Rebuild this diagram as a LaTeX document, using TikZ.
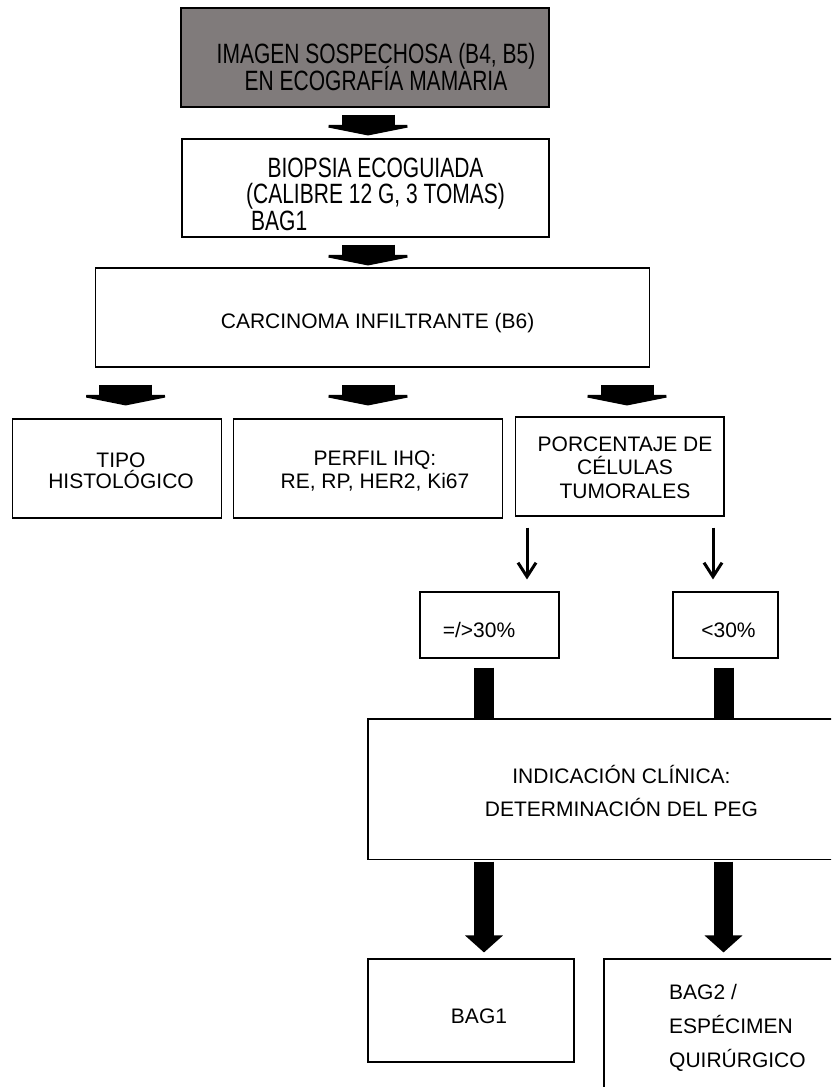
\documentclass[tikz,border=0pt]{standalone}
\usepackage{fontspec}
\setmainfont{Liberation Sans}
\usetikzlibrary{arrows.meta}
\definecolor{boxgray}{RGB}{128,123,123}
\newcommand{\boxfont}[1]{\fontsize{21}{#1}\selectfont\lineskiplimit=-100pt\relax}

\begin{document}
\begin{tikzpicture}[x=1pt, y=-1pt,
    box/.style={draw, line width=1.1pt, inner sep=0pt},
    txt/.style={inner sep=0pt, anchor=base, align=center},
    blockarr/.style={line width=53pt, -{Triangle[length=10.5pt, width=105pt]}},
    bar/.style={line width=20pt},
    tallarr/.style={line width=19.5pt, -{Triangle[length=17pt, width=37pt]}},
    thinarr/.style={line width=3pt, -{Straight Barb[length=14pt, width=18pt]}}]

\useasboundingbox (0,0) rectangle (831,1087);
\clip (0,0) rectangle (831,1087);

\node[box, fill=boxgray, line width=1.4pt, minimum width=368, minimum height=99] (img) at (365,57.5) {};
\node[box, minimum width=367, minimum height=98] (biop) at (365.5,188) {};
\node[box, minimum width=553.8, minimum height=99] (carc) at (372.8,317.5) {};
\node[box, minimum width=208.5, minimum height=99] (tipo) at (116.8,468.5) {};
\node[box, minimum width=269.7, minimum height=99] (perfil) at (368,468.5) {};
\node[box, minimum width=208.3, minimum height=99] (porc) at (619.8,466.5) {};
\node[box, minimum width=139, minimum height=66] (ge30) at (489.5,625) {};
\node[box, minimum width=105, minimum height=66] (lt30) at (725.5,625) {};
\node[box, minimum width=522, minimum height=140.5] (ind) at (629,789.25) {};
\node[box, minimum width=206, minimum height=103] (bagone) at (471,1010.5) {};
\node[box, minimum width=296, minimum height=171] (bagtwo) at (752,1044.5) {};

\node[txt, font=\boxfont{20.3}, yscale=1.33, transform shape] (imgtxt) at (376,90)
    {IMAGEN SOSPECHOSA (B4, B5)\\EN ECOGRAFÍA MAMARIA};
\node[txt, font=\boxfont{19.9}, yscale=1.33, transform shape] (bioptxt) at (375.5,230)
    {BIOPSIA ECOGUIADA\\(CALIBRE 12 G, 3 TOMAS)\\\rlap{\hspace{5pt}BAG1}\phantom{(CALIBRE 12 G, 3 TOMAS)}};
\node[txt, font=\boxfont{23}] (carctxt) at (377.6,328) {CARCINOMA INFILTRANTE (B6)};
\node[txt, font=\boxfont{21}] (tipotxt) at (121,488) {TIPO\\HISTOLÓGICO};
\node[txt, font=\boxfont{23}] (perfiltxt) at (375,488) {PERFIL IHQ:\\RE, RP, HER2, Ki67};
\node[txt, font=\boxfont{23.5}] (porctxt) at (625,498) {PORCENTAJE DE\\CÉLULAS\\TUMORALES};
\node[txt, font=\boxfont{23}] (ge30txt) at (479,637) {=/>30\%};
\node[txt, font=\boxfont{23}] (lt30txt) at (728.5,637) {<30\%};
\node[txt, font=\boxfont{33}] (indtxt) at (621.5,816) {INDICACIÓN CLÍNICA:\\DETERMINACIÓN DEL PEG};
\node[txt, font=\boxfont{23}] (bagonetxt) at (479,1023) {BAG1};
\node[txt, font=\boxfont{34}, align=left, anchor=base west] (bagtwotxt) at (669,1067) {BAG2 /\\ESPÉCIMEN\\QUIRÚRGICO};

\draw[blockarr, shorten <=7pt, shorten >=3pt] ([xshift=3pt]img.south) -- ([xshift=3pt]img.south |- biop.north);
\draw[blockarr, shorten <=7pt, shorten >=2pt] ([xshift=3pt]img.south |- biop.south) -- ([xshift=3pt]img.south |- carc.north);
\draw[blockarr, shorten <=17pt, shorten >=13pt] ([xshift=8.8pt]tipo.north |- carc.south) -- ([xshift=8.8pt]tipo.north);
\draw[blockarr, shorten <=17pt, shorten >=13pt] (perfil.north |- carc.south) -- (perfil.north);
\draw[blockarr, shorten <=17pt, shorten >=11pt] ([xshift=7.2pt]porc.north |- carc.south) -- ([xshift=7.2pt]porc.north);
\draw[thinarr, shorten <=11pt, shorten >=12pt] ([xshift=37.5pt]ge30.north |- porc.south) -- ([xshift=37.5pt]ge30.north);
\draw[thinarr, shorten <=11pt, shorten >=12pt] ([xshift=-12.5pt]lt30.north |- porc.south) -- ([xshift=-12.5pt]lt30.north);
\draw[bar, shorten <=9pt, shorten >=0.5pt] ([xshift=-5.5pt]ge30.south) -- ([xshift=-5.5pt]ge30.south |- ind.north);
\draw[bar, shorten <=9pt, shorten >=0.5pt] ([xshift=-2pt]lt30.south) -- ([xshift=-2pt]lt30.south |- ind.north);
\draw[tallarr, shorten <=1.5pt, shorten >=6pt] ([xshift=-5.5pt]ge30.south |- ind.south) -- ([xshift=-5.5pt]ge30.south |- bagone.north);
\draw[tallarr, shorten <=1.5pt, shorten >=6pt] ([xshift=-2pt]lt30.south |- ind.south) -- ([xshift=-2pt]lt30.south |- bagtwo.north);
\end{tikzpicture}
\end{document}
